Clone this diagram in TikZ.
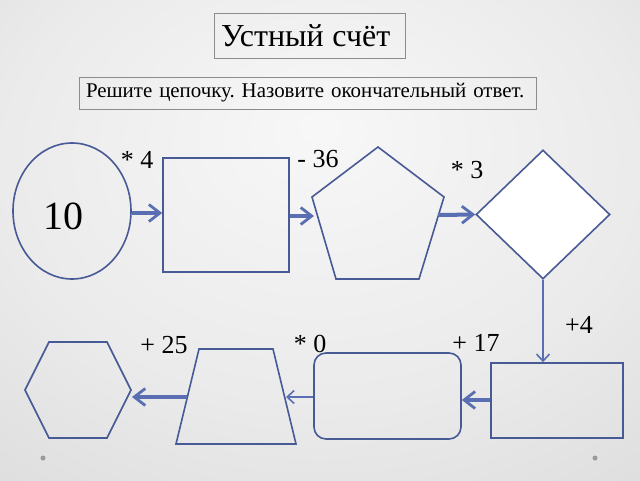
\documentclass[tikz,border=0pt]{standalone}
\usepackage{fontspec}
\setmainfont{Liberation Serif}
\frenchspacing
\usetikzlibrary{arrows.meta,shapes.geometric}
\definecolor{shp}{RGB}{72,90,150}
\definecolor{arr}{RGB}{90,110,178}
\definecolor{frm}{RGB}{140,140,140}
\pgfdeclareradialshading{bgshade}{\pgfpoint{0bp}{12bp}}{color(0bp)=(white!97!black); color(25bp)=(white!92!black); color(50bp)=(white!84!black); color(75bp)=(white!78!black)}
\begin{document}
\begin{tikzpicture}[x=1pt,y=-1pt,
  fig/.style={draw=shp, line width=1.6pt},
  bigarrow/.style={draw=arr, line width=4pt, -{Straight Barb[length=11pt,width=17pt,line width=2.8pt]}},
  thinarrow/.style={draw=arr, line width=2pt, -{Straight Barb[length=7pt,width=13pt,line width=1.6pt]}},
  box/.style={draw=frm, line width=0.8pt, align=left},
  lbl/.style={font=\fontsize{26}{28}\selectfont, inner sep=0pt},
  dot/.style={fill=gray!80}]
\useasboundingbox (0,0) rectangle (640,480);
\shade[shading=bgshade] (0,0) rectangle (640,480);

% titles
\node[box, text width=177pt, inner xsep=7pt, minimum height=45pt,
      font=\fontsize{32}{35}\selectfont] (title) at (309.5,35.5) {Устный\hspace{-0.06em} счёт};
\node[box, text width=443pt, inner xsep=7pt, minimum height=32pt,
      font=\fontsize{20.9}{23}\selectfont] (task) at (307.5,93) {Решите цепочку. Назовите окончательный ответ.};

% shapes
\node[ellipse, fig, minimum width=118pt, minimum height=136pt, inner sep=0pt] (circ) at (72,211) {};
\node[inner sep=0pt, font=\fontsize{40}{44}\selectfont] (ten) at (63,216) {10};
\node[rectangle, fig, minimum width=126pt, minimum height=114pt] (sq) at (226,215) {};
\draw[fig] (378,147) -- (444,197) -- (419,279) -- (336,279) -- (312,197) -- cycle;
\coordinate (pentL) at (314,216);
\coordinate (pentR) at (438,215);
\node[diamond, fig, fill=white, minimum width=134pt, minimum height=129pt, inner sep=0pt] (dia) at (543,214.5) {};
\node[rectangle, fig, minimum width=132pt, minimum height=75pt] (rect) at (557,400.5) {};
\node[rectangle, fig, rounded corners=12pt, minimum width=147pt, minimum height=86pt] (rrect) at (387.5,396) {};
\draw[fig] (199,349) -- (273,349) -- (296,444) -- (176,444) -- cycle;
\coordinate (trapR) at (286,397);
\coordinate (trapL) at (187,397);
\draw[fig] (49,342) -- (107,342) -- (131,390) -- (107,438) -- (49,438) -- (25,390) -- cycle;
\coordinate (hexR) at (132,397);

% connectors
\draw[bigarrow] (circ.east |- 0,213) -- (sq.west |- 0,213);
\draw[bigarrow] (sq.east |- pentL) -- (pentL);
\draw[bigarrow] (pentR) -- (dia.west);
\draw[thinarrow] (dia.south) -- (dia.south |- rect.north);
\draw[bigarrow] (rect.west |- 0,400) -- (rrect.east |- 0,400);
\draw[thinarrow] (rrect.west |- trapR) -- (trapR);
\draw[bigarrow] (trapL) -- (hexR);

% labels
\node[lbl] (l1) at (137,160) {* 4};
\node[lbl] (l2) at (318,159) {- 36};
\node[lbl] (l3) at (467,170) {* 3};
\node[lbl] (l4) at (579,325) {+4};
\node[lbl] (l5) at (476,343) {+ 17};
\node[lbl] (l6) at (310,344) {* 0};
\node[lbl] (l7) at (164,345) {+ 25};

% dots
\fill[dot] (43,458) circle (2.5pt);
\fill[dot] (595,458) circle (2.5pt);
\end{tikzpicture}
\end{document}
